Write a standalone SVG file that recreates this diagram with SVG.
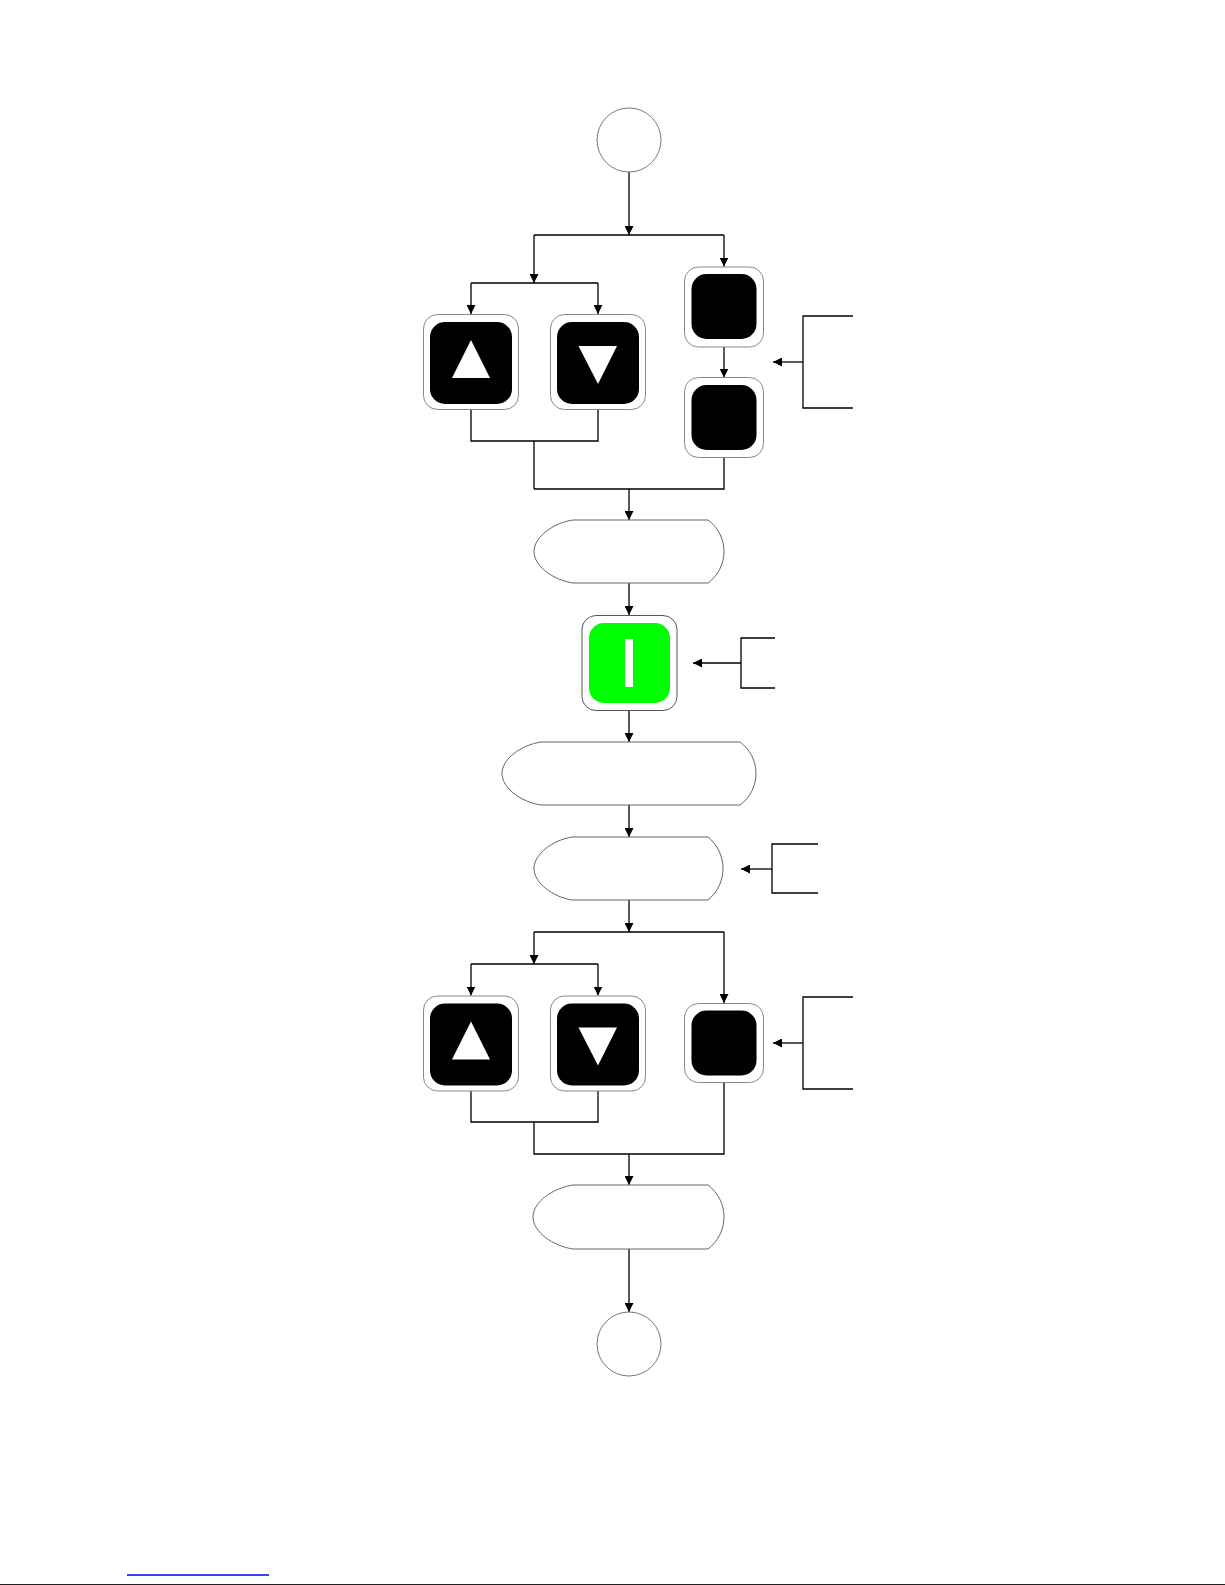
<svg xmlns="http://www.w3.org/2000/svg" width="1225" height="1585" viewBox="0 0 1225 1585">
<style>
.c{fill:none;stroke:#000;stroke-width:1.3}
.a{marker-end:url(#ah)}
.bo{fill:#fff;stroke:#888;stroke-width:1}
.bi{fill:#000}
.tri{fill:#fff}
.disp{fill:#fff;stroke:#666;stroke-width:1}
.term{fill:#fff;stroke:#777;stroke-width:1}
</style>
<defs>
<marker id="ah" markerUnits="userSpaceOnUse" markerWidth="10" markerHeight="9" refX="9" refY="4.5" orient="auto">
<path d="M0,0 L9,4.5 L0,9 Z" fill="#000"/>
</marker>
</defs>
<rect width="1225" height="1585" fill="#fff"/>
<g id="connectors">
<path class="c a" d="M629,172 V235"/>
<path class="c" d="M534,235 H724"/>
<path class="c a" d="M724,235 V266.5"/>
<path class="c a" d="M534,235 V283"/>
<path class="c" d="M471,283 H598"/>
<path class="c a" d="M471,283 V314"/>
<path class="c a" d="M598,283 V314"/>
<path class="c a" d="M724,347 V377.5"/>
<path class="c" d="M471,409.5 V441 H598 V409.5"/>
<path class="c" d="M534,441 V489"/>
<path class="c" d="M724,457.5 V489 H534"/>
<path class="c a" d="M629,489 V520"/>
<path class="c" d="M853,316 H803 V408 H853"/>
<path class="c a" d="M803,362 H773"/>
<path class="c a" d="M629,583 V615"/>
<path class="c" d="M775,638 H741 V688 H775"/>
<path class="c a" d="M741,663 H693"/>
<path class="c a" d="M629,711 V742"/>
<path class="c a" d="M629,805 V837"/>
<path class="c" d="M818,844 H772 V893 H818"/>
<path class="c a" d="M772,869 H741"/>
<path class="c a" d="M629,900 V932"/>
<path class="c" d="M534,932 H724"/>
<path class="c a" d="M724,932 V1003"/>
<path class="c a" d="M534,932 V964"/>
<path class="c" d="M471,964 H598"/>
<path class="c a" d="M471,964 V995.5"/>
<path class="c a" d="M598,964 V995.5"/>
<path class="c" d="M471,1091 V1122 H598 V1091"/>
<path class="c" d="M534,1122 V1154 H724 V1083"/>
<path class="c a" d="M629,1154 V1185"/>
<path class="c" d="M853,997 H803 V1089 H853"/>
<path class="c a" d="M803,1043 H773"/>
<path class="c a" d="M629,1249 V1312"/>
</g>
<g id="start"><circle class="term" cx="629" cy="140" r="32"/></g>
<g id="btn-up-1">
<rect class="bo" x="423.5" y="314.5" width="95" height="95" rx="14"/>
<rect class="bi" x="430" y="322" width="82" height="82" rx="15"/>
<polygon class="tri" points="471,340 452,378 490,378"/>
</g>
<g id="btn-down-1">
<rect class="bo" x="550.5" y="314.5" width="95" height="95" rx="14"/>
<rect class="bi" x="557" y="322" width="82" height="82" rx="15"/>
<polygon class="tri" points="578.5,346 617,346 598,384"/>
</g>
<g id="btn-r1">
<rect class="bo" x="684.5" y="267" width="79" height="80" rx="14"/>
<rect class="bi" x="691.5" y="274" width="65" height="65" rx="15"/>
</g>
<g id="btn-r2">
<rect class="bo" x="684.5" y="377.5" width="79" height="80" rx="14"/>
<rect class="bi" x="691.5" y="385" width="65" height="65" rx="15"/>
</g>
<g id="display-1"><path class="disp" d="M573,520 H708 A39,39 0 0 1 708,583 H573 C553,580 534,566 534,551.5 C534,537 553,523 573,520 Z"/></g>
<g id="btn-green">
<rect x="582" y="615.5" width="95" height="95" rx="14" fill="#fff" stroke="#555" stroke-width="1"/>
<rect x="589" y="623" width="81" height="80" rx="15" fill="#00ff00"/>
<rect x="625" y="639" width="8" height="48" fill="#fff"/>
</g>
<g id="display-2"><path class="disp" d="M541,742 H740 A39,39 0 0 1 740,805 H541 C521,802 502,788 502,773.5 C502,759 521,745 541,742 Z"/></g>
<g id="display-3"><path class="disp" d="M572,837 H708 A40.6,40.6 0 0 1 708,900 H572 C553,897 534,883 534,868.5 C534,854 553,840 572,837 Z"/></g>
<g id="btn-up-2">
<rect class="bo" x="423.5" y="996" width="95" height="95" rx="14"/>
<rect class="bi" x="430" y="1003.5" width="82" height="82" rx="15"/>
<polygon class="tri" points="471,1021.5 452,1059.5 490,1059.5"/>
</g>
<g id="btn-down-2">
<rect class="bo" x="550.5" y="996" width="95" height="95" rx="14"/>
<rect class="bi" x="557" y="1003.5" width="82" height="82" rx="15"/>
<polygon class="tri" points="578.5,1027.5 617,1027.5 598,1065.5"/>
</g>
<g id="btn-r3">
<rect class="bo" x="684.5" y="1003.5" width="79" height="79" rx="14"/>
<rect class="bi" x="691.5" y="1010.5" width="65" height="65" rx="15"/>
</g>
<g id="display-4"><path class="disp" d="M573,1185 H708 A40,40 0 0 1 708,1249 H573 C553,1246 533,1232 533,1217 C533,1202 553,1188 573,1185 Z"/></g>
<g id="end"><circle class="term" cx="629" cy="1344" r="32"/></g>
<line x1="127" y1="1575" x2="269" y2="1575" stroke="#0000ee" stroke-width="1.3"/>
<line x1="0" y1="1584.5" x2="1225" y2="1584.5" stroke="#222" stroke-width="1"/>
</svg>
